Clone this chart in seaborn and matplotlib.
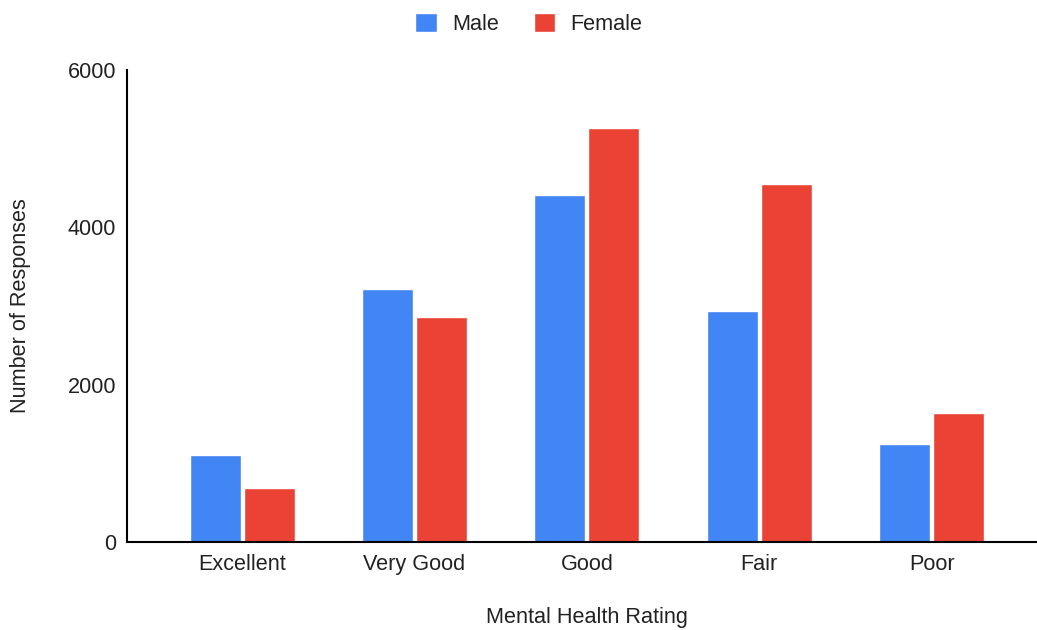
import pandas as pd
import matplotlib
matplotlib.use("Agg")
import matplotlib.pyplot as plt
from matplotlib.patches import Patch
import seaborn as sns

ratings = ["Excellent", "Very Good", "Good", "Fair", "Poor"]
male = [1110, 3220, 4415, 2935, 1250]
female = [685, 2860, 5260, 4555, 1645]
genders = ["Male", "Female"]
colors = {"Male": "#4285F4", "Female": "#EA4335"}

df = pd.DataFrame({
    "Rating": ratings * 2,
    "Gender": ["Male"] * len(ratings) + ["Female"] * len(ratings),
    "Responses": male + female,
})

sns.set_style("white")
plt.rcParams["font.family"] = ["Liberation Sans", "DejaVu Sans"]

fig = plt.figure(figsize=(10.37, 6.3), dpi=100)
ax = fig.add_axes([0.1225, 0.1397, 0.8775, 0.7493])

sns.barplot(data=df, x="Rating", y="Responses", hue="Gender", order=ratings,
            hue_order=genders, palette=colors, width=0.626, gap=0.055,
            saturation=1, ax=ax, legend=False)

ax.set_xlim(-0.667, 4.61)
ax.set_ylim(0, 6000)
ax.set_yticks([0, 2000, 4000, 6000])
ax.tick_params(axis="both", length=0, labelsize=15.6, colors="#222222", pad=8)
ax.tick_params(axis="x", pad=9)
for s in ["top", "right"]:
    ax.spines[s].set_visible(False)
for s in ["left", "bottom"]:
    ax.spines[s].set_color("black")
    ax.spines[s].set_linewidth(1.5)

ax.set_xlabel("Mental Health Rating", fontsize=15.6, color="#222222", va="center")
ax.set_ylabel("Number of Responses", fontsize=15.6, color="#222222", va="center")
ax.xaxis.set_label_coords(0.5055, -0.161)
ax.yaxis.set_label_coords(-0.1176, 0.5)

handles = [Patch(facecolor=colors[g], label=g) for g in genders]
fig.legend(handles=handles, loc="center", bbox_to_anchor=(0.51, 0.962), ncol=2,
           frameon=False, fontsize=15.6, handlelength=1.0, handleheight=1.0,
           handletextpad=0.7, columnspacing=1.6, labelcolor="#222222")

fig.savefig("out.png", dpi=100)
